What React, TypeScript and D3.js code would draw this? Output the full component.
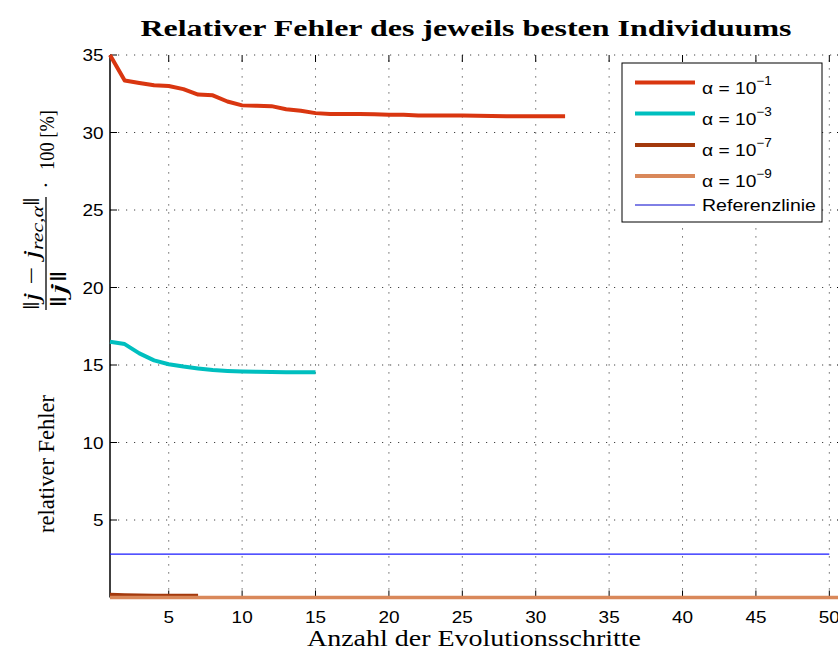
import React, { useEffect, useRef } from "react";
import * as d3 from "d3";

// relative error of the best individual per evolution step
const alpha1Err = [
  35.0, 33.35, 33.2, 33.05, 33.0, 32.8, 32.45, 32.4, 32.0, 31.75,
  31.72, 31.7, 31.5, 31.4, 31.25, 31.2, 31.2, 31.2, 31.18, 31.15,
  31.15, 31.1, 31.1, 31.1, 31.1, 31.08, 31.07, 31.05, 31.05, 31.05,
  31.05, 31.05,
];
const alpha3Err = [
  16.5, 16.35, 15.75, 15.3, 15.05, 14.9, 14.78, 14.68, 14.62, 14.58,
  14.56, 14.55, 14.54, 14.53, 14.53,
];
const alpha7Err = [0.2, 0.16, 0.14, 0.13, 0.13, 0.13, 0.13];
const alpha9Err = [
  0.0, 0.0, 0.0, 0.0, 0.0, 0.0, 0.0, 0.0, 0.0, 0.0,
  0.0, 0.0, 0.0, 0.0, 0.0, 0.0, 0.0, 0.0, 0.0, 0.0,
  0.0, 0.0, 0.0, 0.0, 0.0, 0.0, 0.0, 0.0, 0.0, 0.0,
  0.0, 0.0, 0.0, 0.0, 0.0, 0.0, 0.0, 0.0, 0.0, 0.0,
  0.0, 0.0, 0.0, 0.0, 0.0, 0.0, 0.0, 0.0, 0.0, 0.0,
  0.0,
];
const refSteps = [1, 50];
const refErr = [2.8, 2.8];

const xTicks = [5, 10, 15, 20, 25, 30, 35, 40, 45, 50];
const yTicks = [5, 10, 15, 20, 25, 30, 35];

const series = [
  { name: "−1", values: alpha1Err, color: "#d93610", width: 4 },
  { name: "−3", values: alpha3Err, color: "#00bfbf", width: 4 },
  { name: "−7", values: alpha7Err, color: "#a3390c", width: 3.5 },
  { name: "−9", values: alpha9Err, color: "#d9885a", width: 3.5 },
];

export default function App() {
  const ref = useRef<SVGSVGElement>(null);

  useEffect(() => {
    const svg = d3.select(ref.current);
    svg.selectAll("*").remove();

    const left = 110, right = 844, top = 55, bottom = 597.5;
    const x = d3.scaleLinear().domain([1, 51]).range([left, right]);
    const y = d3.scaleLinear().domain([0, 35]).range([bottom, top]);
    const sans = "'Liberation Sans', Arial, Helvetica, sans-serif";
    const serif = "'Liberation Serif', 'Times New Roman', serif";

    svg.append("rect").attr("width", 838).attr("height", 654).attr("fill", "#fff");

    // dotted grid
    const grid = svg.append("g").attr("stroke", "#444").attr("stroke-width", 1)
      .attr("stroke-dasharray", "1.2,6.8");
    xTicks.forEach((t) => {
      grid.append("line").attr("x1", x(t)).attr("x2", x(t)).attr("y1", bottom).attr("y2", top);
    });
    yTicks.forEach((t) => {
      grid.append("line").attr("x1", left).attr("x2", right).attr("y1", y(t)).attr("y2", y(t));
    });

    // ticks on all four sides, pointing inward
    const ticks = svg.append("g").attr("stroke", "#000").attr("stroke-width", 1);
    xTicks.forEach((t) => {
      ticks.append("line").attr("x1", x(t)).attr("x2", x(t)).attr("y1", bottom).attr("y2", bottom - 7);
      ticks.append("line").attr("x1", x(t)).attr("x2", x(t)).attr("y1", top).attr("y2", top + 7);
    });
    yTicks.forEach((t) => {
      ticks.append("line").attr("x1", left).attr("x2", left + 7).attr("y1", y(t)).attr("y2", y(t));
      ticks.append("line").attr("x1", right).attr("x2", right - 7).attr("y1", y(t)).attr("y2", y(t));
    });

    // axis lines
    svg.append("line").attr("x1", left).attr("x2", left).attr("y1", top).attr("y2", bottom)
      .attr("stroke", "#000").attr("stroke-width", 1.5);
    svg.append("line").attr("x1", left).attr("x2", right).attr("y1", bottom).attr("y2", bottom)
      .attr("stroke", "#000").attr("stroke-width", 1.5);

    // tick labels
    xTicks.forEach((t) => {
      svg.append("text")
        .attr("transform", `translate(${x(t)},623) scale(1.15,1)`)
        .attr("text-anchor", "middle")
        .style("font-family", sans).style("font-size", "16.5px").attr("fill", "#000")
        .text(t);
    });
    yTicks.forEach((t) => {
      svg.append("text")
        .attr("transform", `translate(103.5,${y(t) + 6}) scale(1.15,1)`)
        .attr("text-anchor", "end")
        .style("font-family", sans).style("font-size", "16.5px").attr("fill", "#000")
        .text(t);
    });

    // data lines
    const line = d3.line<number>()
      .x((d, i) => x(i + 1))
      .y((d) => y(d));
    series.forEach((s) => {
      svg.append("path")
        .datum(s.values)
        .attr("d", line)
        .attr("fill", "none")
        .attr("stroke", s.color)
        .attr("stroke-width", s.width)
        .attr("stroke-linejoin", "round");
    });
    const refLine = d3.line<number>()
      .x((d, i) => x(refSteps[i]))
      .y((d) => y(d));
    svg.append("path")
      .datum(refErr)
      .attr("d", refLine)
      .attr("fill", "none")
      .attr("stroke", "#1a1aff")
      .attr("stroke-width", 1.1);

    // title
    svg.append("text")
      .attr("x", 466).attr("y", 36)
      .attr("text-anchor", "middle")
      .attr("textLength", 651).attr("lengthAdjust", "spacingAndGlyphs")
      .style("font-family", serif).style("font-size", "24px").style("font-weight", "bold")
      .text("Relativer Fehler des jeweils besten Individuums");

    // x label
    svg.append("text")
      .attr("x", 474).attr("y", 646)
      .attr("text-anchor", "middle")
      .attr("textLength", 334).attr("lengthAdjust", "spacingAndGlyphs")
      .style("font-family", serif).style("font-size", "23px")
      .text("Anzahl der Evolutionsschritte");

    // y label with fraction, rotated
    const yl = svg.append("g")
      .attr("transform", "translate(54,326) rotate(-90)")
      .style("font-family", serif).attr("fill", "#000");
    yl.append("text")
      .attr("x", -207).attr("y", 0)
      .attr("textLength", 138).attr("lengthAdjust", "spacingAndGlyphs")
      .style("font-size", "23px")
      .text("relativer Fehler");
    const num = yl.append("text")
      .attr("x", 16).attr("y", -15)
      .attr("textLength", 113).attr("lengthAdjust", "spacingAndGlyphs")
      .style("font-size", "23px");
    num.append("tspan").text("‖");
    num.append("tspan").style("font-style", "italic").text("j");
    num.append("tspan").text(" − ");
    num.append("tspan").style("font-style", "italic").text("j");
    num.append("tspan").style("font-style", "italic").style("font-size", "16px")
      .attr("dy", 4).text("rec,α");
    num.append("tspan").attr("dy", -4).text("‖");
    yl.append("line")
      .attr("x1", 16).attr("x2", 129).attr("y1", -8).attr("y2", -8)
      .attr("stroke", "#000").attr("stroke-width", 1.3);
    const den = yl.append("text")
      .attr("x", 18).attr("y", 12)
      .attr("textLength", 38).attr("lengthAdjust", "spacingAndGlyphs")
      .style("font-size", "23px");
    den.append("tspan").text("‖");
    den.append("tspan").style("font-style", "italic").text("j");
    den.append("tspan").text("‖");
    yl.append("text")
      .attr("x", 141).attr("y", -1)
      .attr("text-anchor", "middle")
      .style("font-size", "22px")
      .text("·");
    yl.append("text")
      .attr("x", 156).attr("y", 0)
      .attr("textLength", 60).attr("lengthAdjust", "spacingAndGlyphs")
      .style("font-size", "22px")
      .text("100 [%]");

    // legend
    const lg = svg.append("g");
    lg.append("rect")
      .attr("x", 622).attr("y", 63).attr("width", 200).attr("height", 159)
      .attr("fill", "#fff").attr("stroke", "#000").attr("stroke-width", 1);
    const rowsY = [82.5, 113.5, 145, 176];
    series.forEach((s, i) => {
      lg.append("line")
        .attr("x1", 635).attr("x2", 695).attr("y1", rowsY[i]).attr("y2", rowsY[i])
        .attr("stroke", s.color).attr("stroke-width", 4);
      const t = lg.append("text")
        .attr("transform", `translate(702,${rowsY[i] + 11}) scale(1.13,1)`)
        .style("font-family", sans).style("font-size", "17px").attr("fill", "#000");
      t.append("tspan").text("α = 10");
      t.append("tspan").attr("dy", -9).style("font-size", "12px").text(s.name);
    });
    lg.append("line")
      .attr("x1", 635).attr("x2", 695).attr("y1", 205).attr("y2", 205)
      .attr("stroke", "#0000cc").attr("stroke-width", 1);
    lg.append("text")
      .attr("x", 702).attr("y", 211)
      .attr("textLength", 114).attr("lengthAdjust", "spacingAndGlyphs")
      .style("font-family", sans).style("font-size", "17px").attr("fill", "#000")
      .text("Referenzlinie");
  }, []);

  return (
    <svg
      ref={ref}
      width={838}
      height={654}
      style={{ position: "absolute", left: 0, top: 0, display: "block" }}
    />
  );
}
